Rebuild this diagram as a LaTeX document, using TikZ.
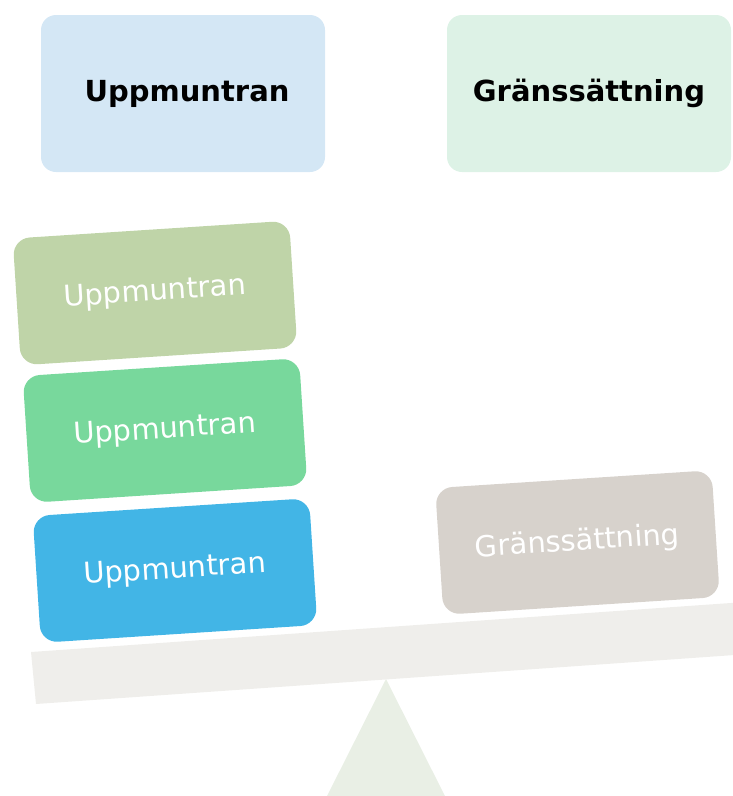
\documentclass[tikz,border=0pt]{standalone}
\usepackage{fontspec}
\setmainfont{DejaVu Sans}
\usetikzlibrary{positioning}
\definecolor{headblue}{HTML}{D4E7F5}
\definecolor{headgreen}{HTML}{DDF2E6}
\definecolor{sage}{HTML}{BFD4A8}
\definecolor{mint}{HTML}{78D89C}
\definecolor{sky}{HTML}{42B5E6}
\definecolor{stone}{HTML}{D7D2CC}
\definecolor{beamgray}{HTML}{EFEEEB}
\definecolor{pivotgreen}{HTML}{E9EFE5}

\begin{document}
\begin{tikzpicture}[
         x=1pt, y=-1pt,
         heading/.style={rectangle, rounded corners=15pt, minimum width=284pt, minimum height=157pt,
                         font=\fontsize{29}{34}\selectfont\bfseries, text=black},
         weight/.style={rectangle, rounded corners=17pt, minimum width=277pt, minimum height=127pt,
                        rotate=3.7, font=\fontsize{29}{34}\selectfont, text=white}
      ]
         \clip (0,0) rectangle (733,796);

         % Headings
         \node[heading, fill=headblue] (encourage) at (183,93.5) {\hspace{8pt}Uppmuntran};
         \node[heading, fill=headgreen] (limits) at (589,93.5) {Gränssättning};

         % Beam and pivot
         \fill[pivotgreen] (386,679) -- (447,800) -- (325,800) -- cycle;
         \fill[beamgray] (31,652) -- (745,602) -- (749,654) -- (36,704) -- cycle;

         % Weights on the beam
         \node[weight, fill=sage] (up1) at (155,293) {Uppmuntran};
         \node[weight, fill=mint] (up2) at (165,430.5) {Uppmuntran};
         \node[weight, fill=sky] (up3) at (175,570.5) {Uppmuntran};
         \node[weight, fill=stone] (lim1) at (577.5,542.5) {Gränssättning};
      \end{tikzpicture}
\end{document}
